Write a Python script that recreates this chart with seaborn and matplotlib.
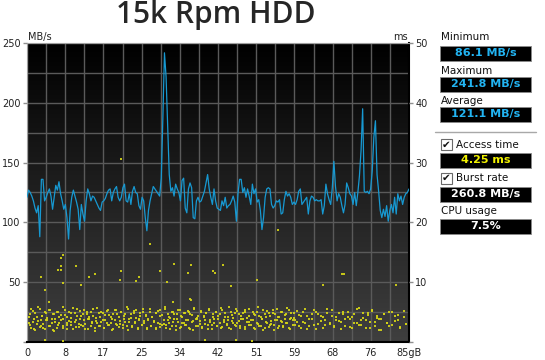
import numpy as np
import pandas as pd
import matplotlib
matplotlib.use("Agg")
import matplotlib.pyplot as plt
import seaborn as sns
from matplotlib.patches import Rectangle
from matplotlib.colors import LinearSegmentedColormap

# transfer rate in MB/s, read left to right along the curve
transfer_rate = [
    121, 127, 125, 122, 118, 112, 108, 114, 88, 136, 136, 118, 121, 125, 128, 122, 111, 121, 131, 127,
    134, 124, 118, 111, 115, 104, 86.1, 110, 121, 127, 122, 117, 111, 94, 115, 107, 101, 118, 128, 124,
    118, 122, 121, 118, 115, 112, 110, 117, 118, 120, 124, 127, 128, 118, 125, 128, 130, 121, 118,
    121, 129, 132, 118, 117, 124, 115, 126, 130, 125, 124, 114, 111, 121, 118, 104, 93, 110, 118, 124,
    130, 128, 126, 124, 122, 137, 187, 241.8, 222, 182, 140, 126, 129, 122, 132, 128, 125, 118, 135, 137,
    112, 108, 128, 133, 129, 104, 103, 118, 121, 117, 118, 122, 126, 133, 140, 128, 121, 115, 128, 118,
    112, 111,
    110, 118, 114, 121, 112, 114, 115, 118, 122, 117, 101, 124, 136, 136, 125, 129, 121, 128, 122, 115,
    132, 124, 128, 117, 119, 110, 94, 104, 121, 128, 129, 128, 115, 112, 114, 118, 117, 119, 107, 108,
    119, 126, 122, 124, 121, 115, 117, 115, 119, 126, 128, 115, 117, 119, 121, 107, 118, 122, 121, 118,
    119, 118,
    118, 119, 107, 114, 132, 124, 119, 115, 129, 151, 130, 118, 124, 121, 114, 108, 115, 133, 129, 124,
    122, 115, 125, 114, 125, 139, 160, 195, 126, 125, 126, 124, 128, 143, 171, 185, 140, 126, 110, 104,
    111, 105, 114, 101, 110, 115, 108, 121, 107, 124, 118, 122, 115, 121, 124, 125, 128,
]

# access time band (GB position, ms)
access_pos = [
    0.4, 0.7, 0.9, 1.3, 1.5, 1.8, 2.2, 2.4, 2.9, 3.1, 3.4, 3.6, 4.0, 4.3, 4.5, 4.8, 5.2, 5.5, 5.7, 6.1,
    6.3, 6.6, 7.0, 7.2, 7.5, 7.9, 8.1, 8.4, 8.8, 9.0, 9.3, 9.7, 9.9, 10.2, 10.6, 10.8, 11.1, 11.5, 11.7, 12.0,
    12.4, 12.6, 12.9, 13.3, 13.5, 13.8, 14.2, 14.4, 14.7, 15.1, 15.3, 15.6, 16.0, 16.2, 16.5, 16.9, 17.1, 17.4, 17.8, 18.0,
    18.3, 18.7, 18.9, 19.2, 19.6, 19.8, 20.1, 20.5, 20.7, 21.0, 21.4, 21.6, 21.9, 22.3, 22.5, 22.8, 23.2, 23.4, 23.7, 24.1,
    24.3, 24.6, 25.0, 25.2, 25.5, 25.9, 26.1, 26.4, 26.8, 27.0, 27.3, 27.7, 27.9, 28.2, 28.6, 28.8, 29.1, 29.5, 29.7, 30.0,
    30.4, 30.6, 30.9, 31.3, 31.5, 31.8, 32.2, 32.4, 32.7, 33.1, 33.3, 33.6, 34.0, 34.2, 34.5, 34.9, 35.1, 35.4, 35.8, 36.0,
    36.3, 36.7, 36.9, 37.2, 37.6, 37.8, 38.1, 38.5, 38.7, 39.0, 39.4, 39.6, 39.9, 40.3, 40.5, 40.8, 41.2, 41.4, 41.7, 42.1,
    42.3, 42.6, 43.0, 43.2, 43.5, 43.9, 44.1, 44.4, 44.8, 45.0, 45.3, 45.7, 45.9, 46.2, 46.6, 46.8, 47.1, 47.5, 47.7, 48.0,
    48.4, 48.6, 48.9, 49.3, 49.5, 49.8, 50.2, 50.4, 50.7, 51.1, 51.3, 51.6, 52.0, 52.2, 52.5, 52.9, 53.1, 53.4, 53.8, 54.0,
    54.3, 54.7, 54.9, 55.2, 55.6, 55.8, 56.1, 56.5, 56.7, 57.0, 57.4, 57.6, 57.9, 58.3, 58.5, 58.8, 59.2, 59.4, 59.7, 60.1,
    60.5, 61.0, 61.4, 61.9, 62.3, 62.8, 63.4, 63.9, 64.3, 64.8, 65.4, 65.9, 66.3, 66.8, 67.4, 67.9, 68.3, 68.8, 69.4, 69.9,
    70.3, 70.8, 71.4, 71.9, 72.3, 72.8, 73.4, 73.9, 74.3, 74.8, 75.4, 75.9, 76.3, 76.8, 77.4, 77.9, 78.3, 78.8, 79.4, 80.0,
    80.6, 81.2, 81.9, 82.5, 83.1, 83.8, 84.4,
]
access_ms_a = [
    3.1, 4.6, 2.4, 5.2, 3.8, 2.0, 4.1, 3.5, 5.6, 2.7, 4.4, 3.0, 2.2, 4.9, 3.6, 5.4, 2.6, 3.9, 4.7, 1.8,
    3.3, 5.0, 2.9, 4.2, 3.7, 5.8, 2.3, 4.5, 3.2, 2.8, 5.1, 3.4, 4.0, 2.1, 4.8, 3.6, 5.5, 2.5, 3.9, 4.3,
    2.7, 5.3, 3.0, 4.6, 2.2, 3.8, 5.0, 3.1, 4.4, 1.9, 3.5, 5.7, 2.6, 4.1, 3.3, 4.9, 2.4, 3.7, 5.2, 2.9,
    4.5, 3.2, 2.0, 4.7, 3.6, 5.4, 2.8, 4.2, 3.0, 5.1, 2.3, 3.9, 4.6, 2.7, 5.6, 3.4, 4.0, 2.5, 4.8, 3.1,
    5.3, 2.2, 3.8, 4.3, 2.9, 5.0, 3.5, 4.5, 2.1, 3.7, 5.5, 2.6, 4.1, 3.3, 4.9, 2.4, 5.2, 3.0, 4.4, 2.8,
    3.6, 5.8, 2.3, 4.7, 3.2, 4.0, 2.7, 5.1, 3.9, 2.0, 4.6, 3.4, 5.3, 2.5, 4.2, 3.1, 4.8, 2.9, 3.7, 5.0,
    2.2, 4.5, 3.5, 5.6, 2.6, 3.8, 4.3, 3.0, 5.2, 2.4, 4.1, 3.6, 4.9, 2.8, 5.4, 3.3, 2.1, 4.6, 3.9, 5.0,
    2.7, 4.4, 3.2, 5.7, 2.5, 3.7, 4.8, 3.0, 4.2, 2.3, 5.1, 3.5, 4.0, 2.9, 5.5, 3.1, 4.6, 2.6, 3.8, 4.9,
    2.2, 5.3, 3.4, 4.3, 2.8, 3.6, 5.0, 2.4, 4.5, 3.2, 5.8, 2.7, 4.1, 3.9, 2.0, 4.7, 3.3, 5.2, 2.5, 4.4,
    3.0, 4.8, 2.9, 3.7, 5.6, 2.3, 4.2, 3.5, 5.1, 2.6, 3.8, 4.6, 3.1, 5.4, 2.1, 4.0, 3.6, 4.9, 2.8, 3.4,
    4.5, 2.4, 5.0, 3.2, 4.3, 2.7, 3.9, 5.3, 2.2, 4.7, 3.5, 4.1, 2.9, 5.5, 3.0, 4.4, 2.5, 3.7, 4.8, 3.3,
    5.1, 2.6, 4.2, 3.8, 2.3, 4.6, 3.1, 5.7, 2.8, 4.0, 3.6, 4.9, 2.4, 5.2, 3.4, 4.3, 2.0, 3.9, 4.7, 3.2,
    2.7, 5.0, 3.5, 4.5, 2.5, 4.1, 3.0,
]
access_ms_b = [
    4.2, 2.8, 5.5, 3.4, 2.1, 4.8, 3.0, 5.9, 2.5, 3.7, 4.4, 2.3, 5.1, 3.6, 4.0, 2.7, 5.3, 3.2, 2.0, 4.6,
    3.9, 2.4, 5.0, 3.1, 4.5, 2.6, 3.8, 5.4, 2.2, 4.1, 3.5, 4.9, 2.9, 5.7, 3.3, 2.5, 4.3, 3.0, 5.2, 2.8,
    4.7, 3.6, 2.1, 5.0, 3.9, 4.2, 2.6, 3.4, 5.6, 2.3, 4.0, 3.1, 4.8, 2.7, 5.1, 3.7, 2.4, 4.5, 3.2, 5.3,
    2.9, 4.1, 3.8, 2.2, 5.4, 3.0, 4.6, 2.5, 3.5, 5.0, 2.8, 4.3, 3.3, 5.8, 2.0, 3.9, 4.7, 2.6, 5.2, 3.4,
    4.0, 2.3, 3.6, 4.9, 2.9, 5.5, 3.1, 4.4, 2.4, 3.8, 5.1, 2.7, 4.2, 3.5, 2.1, 4.8, 3.2, 5.3, 2.5, 4.5,
    3.0, 5.6, 2.8, 3.7, 4.1, 2.2, 5.0, 3.4, 4.6, 2.6, 3.9, 5.4, 2.3, 4.3, 3.1, 4.9, 2.9, 3.6, 5.2, 2.4,
    4.7, 3.3, 2.0, 5.7, 3.8, 4.0, 2.7, 3.5, 5.1, 2.5, 4.4, 3.0, 4.8, 2.2, 5.5, 3.6, 2.8, 4.2, 3.2, 5.0,
    2.6, 3.9, 4.6, 2.4, 5.3, 3.4, 4.1, 2.9, 3.7, 5.8, 2.1, 4.5, 3.1, 4.9, 2.7, 5.2, 3.5, 2.3, 4.3, 3.8,
    5.0, 2.5, 4.0, 3.3, 5.6, 2.8, 3.6, 4.7, 2.2, 5.1, 3.0, 4.4, 2.6, 3.9, 5.4, 2.4, 4.2, 3.2, 4.8, 2.9,
    3.5, 5.3, 2.0, 4.6, 3.7, 4.1, 2.7, 5.0, 3.4, 2.5, 4.5, 3.1, 5.7, 2.3, 3.8, 4.9, 2.8, 4.0, 3.6, 5.2,
    2.6, 4.3, 3.3, 5.5, 2.1, 3.9, 4.7, 2.9, 5.1, 3.0, 4.4, 2.4, 3.7, 4.8, 3.2, 5.4, 2.7, 4.1, 3.5, 2.2,
    4.6, 3.8, 5.0, 2.5, 4.2, 3.1, 5.6, 2.8, 3.6, 4.9, 2.3, 4.5, 3.4, 5.3, 2.6, 4.0, 3.9, 2.0, 4.7, 3.2,
    5.1, 2.9, 4.3, 3.7, 2.4, 5.2, 3.0,
]

# stray access times outside the band
outlier_pos = [27.3, 8.0, 7.6, 7.6, 7.0, 7.5, 11.0, 32.8, 36.6, 35.8, 29.7, 20.9, 3.2, 13.9, 15.1,
               24.2, 24.9, 20.6, 31.1, 7.9, 12.1, 3.9, 4.9, 32.4, 36.3, 4.1, 7.9, 41.3, 41.8, 43.7,
               45.4, 51.1, 65.8, 36.4, 39.6, 46.5, 50.0, 70.1, 70.6, 82.1, 20.9, 55.9]
outlier_ms = [16.4, 14.5, 14.1, 12.7, 12.0, 12.0, 12.7, 13.1, 12.8, 11.5, 11.8, 11.9, 10.8, 10.8, 11.3,
              10.2, 10.8, 10.4, 10.1, 9.9, 9.6, 8.7, 6.7, 6.7, 7.2, 0.3, 0.2, 11.8, 11.5, 12.9,
              9.4, 10.3, 9.6, 7.1, 0.3, 0.4, 0.2, 11.4, 11.4, 9.6, 30.6, 18.8]

x_ticks = [0, 8.5, 17, 25.5, 34, 42.5, 51, 59.5, 68, 76.5, 85]
x_tick_labels = ["0", "8", "17", "25", "34", "42", "51", "59", "68", "76", "85gB"]
mbs_ticks = [0, 50, 100, 150, 200, 250]
ms_ticks = [0, 10, 20, 30, 40, 50]

stat_names = ["Minimum", "Maximum", "Average", "Access time", "Burst rate", "CPU usage"]
stat_values = ["86.1 MB/s", "241.8 MB/s", "121.1 MB/s", "4.25 ms", "260.8 MB/s", "7.5%"]
stat_colors = ["#22b4f2", "#22b4f2", "#22b4f2", "#f2f200", "white", "white"]

rate_df = pd.DataFrame({"gb": np.linspace(0, 85, len(transfer_rate)), "mbs": transfer_rate})
access_df = pd.DataFrame({
    "gb": access_pos + access_pos + outlier_pos,
    "ms": access_ms_a + access_ms_b + outlier_ms,
})

sns.set_style("white")
plt.rcParams["font.family"] = ["DejaVu Sans"]

W, H = 545, 360
fig = plt.figure(figsize=(W / 100, H / 100), dpi=100)
ax = fig.add_axes([27 / W, 18 / H, 382 / W, 299 / H])

# dark vertical gradient behind the plot
bg = LinearSegmentedColormap.from_list("bg", ["#000000", "#3f3f3f"])
ax.imshow(np.linspace(0, 1, 256).reshape(-1, 1), extent=[0, 85, 0, 250],
          aspect="auto", cmap=bg, origin="upper", zorder=0)

sns.lineplot(data=rate_df, x="gb", y="mbs", ax=ax, color="#1799d2", linewidth=0.9, zorder=3)

ax.set_xlim(0, 85)
ax.set_ylim(0, 250)
ax.set_xticks(x_ticks)
ax.set_xticklabels(x_tick_labels)
ax.set_xticks(np.arange(0, 85.1, 4.25), minor=True)
ax.set_yticks(mbs_ticks)
ax.set_yticklabels([""] + [str(v) for v in mbs_ticks[1:]])
ax.set_yticks(np.arange(0, 251, 25), minor=True)
ax.grid(which="both", color="#5a5a5a", linewidth=1)
ax.set_axisbelow(True)
ax.set_xlabel("")
ax.set_ylabel("")
ax.tick_params(axis="both", which="major", length=3, width=1, color="#909090",
               labelsize=7, pad=1.5, labelcolor="#222222")
ax.tick_params(axis="both", which="minor", length=0)
for side in ["top", "left"]:
    ax.spines[side].set_color("#a0a0a0")
for side in ["bottom", "right"]:
    ax.spines[side].set_color("#000000")
    ax.spines[side].set_linewidth(1.5)

ax2 = ax.twinx()
sns.scatterplot(data=access_df, x="gb", y="ms", ax=ax2, color="#d6d616", marker="s",
                s=2.2, linewidth=0, alpha=0.9, zorder=4)
ax2.set_ylim(0, 50)
ax2.set_yticks(ms_ticks)
ax2.set_yticklabels([""] + [str(v) for v in ms_ticks[1:]])
ax2.set_ylabel("")
ax2.tick_params(axis="y", length=3, width=1, color="#909090", labelsize=7, pad=1.5,
                labelcolor="#222222")
for sp in ax2.spines.values():
    sp.set_visible(False)

ax.text(0.003, 1.004, "MB/s", transform=ax.transAxes, ha="left", va="bottom",
        fontsize=7, color="#222222")
ax.text(0.997, 1.004, "ms", transform=ax.transAxes, ha="right", va="bottom",
        fontsize=7, color="#222222")

fig.text(216 / W, 1 - 15 / H, "15k Rpm HDD", ha="center", va="center", fontsize=21.5,
         fontweight="semibold", family=["Open Sans", "DejaVu Sans"], color="#262626")

# side panel with the summary numbers
label_y = [37, 71, 101, 144.5, 178, 211.5]
box_top = [46, 77, 107, 153, 187, 219]
box_x0, box_x1, box_h = 440, 531, 14.5
for i, name in enumerate(stat_names):
    tx = box_x0 + 1
    if name in ("Access time", "Burst rate"):
        fig.add_artist(Rectangle(((box_x0 + 1) / W, 1 - (label_y[i] + 5.5) / H), 11 / W, 11 / H,
                                 transform=fig.transFigure, facecolor="white",
                                 edgecolor="#6a6a6a", linewidth=0.8))
        fig.text((box_x0 + 6.5) / W, 1 - label_y[i] / H, "\u2714", ha="center", va="center",
                 fontsize=7.5, color="#111111")
        tx = box_x0 + 16
    fig.text(tx / W, 1 - label_y[i] / H, name, ha="left", va="center", fontsize=7.5,
             color="#111111")
    fig.add_artist(Rectangle((box_x0 / W, 1 - (box_top[i] + box_h) / H),
                             (box_x1 - box_x0) / W, box_h / H, transform=fig.transFigure,
                             facecolor="black", edgecolor="#8a8a8a", linewidth=0.6))
    fig.text((box_x0 + box_x1) / 2 / W, 1 - (box_top[i] + box_h / 2) / H, stat_values[i],
             ha="center", va="center", fontsize=8, fontweight="bold", color=stat_colors[i])

fig.add_artist(plt.Line2D([435 / W, 536 / W], [1 - 132 / H, 1 - 132 / H],
                          transform=fig.transFigure, color="#a8a8a8", linewidth=1))

fig.savefig("out.png", dpi=100, facecolor="white")
